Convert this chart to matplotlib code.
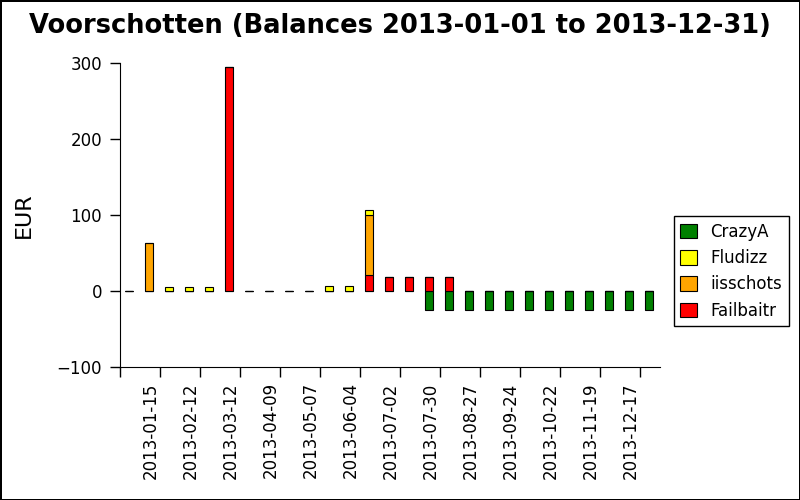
import pandas as pd
import matplotlib
matplotlib.use("Agg")
import matplotlib.pyplot as plt

dates = pd.date_range("2013-01-01", "2013-12-31", freq="14D").strftime("%Y-%m-%d").tolist()

crazya = [0] * 15 + [-25] * 12
failbaitr = [0, 0, 0, 0, 0, 295, 0, 0, 0, 0, 0, 0, 21, 18, 18, 18, 18] + [0] * 10
iisschots = [0, 63, 0, 0, 0, 0, 0, 0, 0, 0, 0, 0, 79] + [0] * 14
fludizz = [0, 0, 5, 5, 5, 0, 0, 0, 0, 0, 7, 7, 6] + [0] * 14

colors = {"CrazyA": "green", "Fludizz": "yellow", "iisschots": "orange", "Failbaitr": "red"}

fig = plt.figure(figsize=(8, 5), dpi=100, facecolor="white", edgecolor="black", linewidth=1.0)
ax = fig.add_axes([0.15, 0.266, 0.675, 0.608])

x = list(range(len(dates)))
w = 0.4
kw = dict(width=w, edgecolor="black", linewidth=0.8)

bot_orange = failbaitr
bot_yellow = [a + b for a, b in zip(failbaitr, iisschots)]

b_green = ax.bar(x, crazya, color=colors["CrazyA"], **kw)
b_red = ax.bar(x, failbaitr, color=colors["Failbaitr"], **kw)
b_orange = ax.bar(x, iisschots, bottom=bot_orange, color=colors["iisschots"], **kw)
b_yellow = ax.bar(x, fludizz, bottom=bot_yellow, color=colors["Fludizz"], **kw)

ax.set_xlim(-0.45, 26.55)
ax.set_ylim(-100, 300)
ax.set_yticks([-100, 0, 100, 200, 300])

# tick marks sit between bars, labels hang to the left of them
tick_pos = [-0.45] + [i + 0.55 for i in range(1, len(dates), 2)]
tick_lab = [""] + dates[1::2]
ax.set_xticks(tick_pos)
ax.set_xticklabels(tick_lab, rotation=90, ha="right", fontsize=12)
ax.tick_params(axis="y", labelsize=12, direction="out", length=7, width=1, pad=6)
ax.tick_params(axis="x", direction="out", length=7, width=1, pad=4)

for s in ["top", "right"]:
    ax.spines[s].set_visible(False)

ax.set_ylabel("EUR", fontsize=16)
ax.yaxis.set_label_coords(-0.16, 0.5)
fig.suptitle("Voorschotten (Balances 2013-01-01 to 2013-12-31)", fontsize=18.5,
             fontweight="bold", y=0.934, va="baseline")

leg = ax.legend([b_green, b_yellow, b_orange, b_red], ["CrazyA", "Fludizz", "iisschots", "Failbaitr"],
                loc="center left", bbox_to_anchor=(1.01, 0.315), fontsize=12, fancybox=False,
                edgecolor="black", framealpha=1, handlelength=1.0, handleheight=1.0)
leg.get_frame().set_linewidth(1.0)

fig.savefig("out.png", dpi=100, edgecolor=fig.get_edgecolor())
